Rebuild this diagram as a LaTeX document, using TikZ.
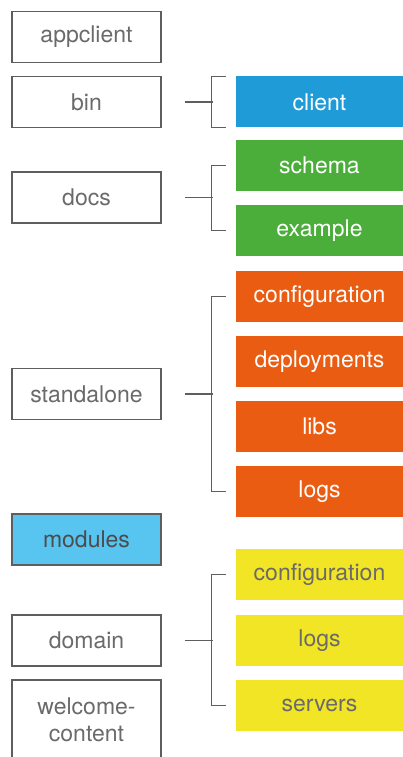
\documentclass[tikz,border=0pt]{standalone}
\usepackage{fontspec}
\setmainfont{TeX Gyre Heros}
\definecolor{boxgray}{HTML}{5E5E5E}
\definecolor{txtgray}{HTML}{6A6A6A}
\definecolor{clientblue}{HTML}{1F9BD8}
\definecolor{modblue}{HTML}{58C5F0}
\definecolor{docgreen}{HTML}{4BAD3A}
\definecolor{saorange}{HTML}{E95C12}
\definecolor{domyellow}{HTML}{F1E526}

\tikzset{
  dir/.style={draw=boxgray, line width=1.3pt, text=txtgray, minimum width=149pt, minimum height=51pt, inner sep=0pt, align=center,
    font=\fontsize{23}{27}\selectfont},
  sub/.style={fill=#1, text=white, minimum width=167pt, minimum height=51pt, inner sep=0pt,
    font=\fontsize{23}{27}\selectfont},
  brace/.style={draw=boxgray, line width=1.3pt}
}

\begin{document}
\begin{tikzpicture}[x=1pt,y=-1pt]
  \useasboundingbox (0,0) rectangle (403,757);
  % top level
  \node[dir] (appclient) at (86.5,37) {appclient};
  \node[dir] (bin) at (86.5,102) {bin};
  \node[dir] (docs) at (86.5,197.5) {docs};
  \node[dir] (standalone) at (86.5,394) {standalone};
  \node[dir, fill=modblue, text=black!70] (modules) at (86.5,539.5) {modules};
  \node[dir] (domain) at (86.5,640.5) {domain};
  \node[dir, minimum height=80pt] (welcome) at (86.5,720) {welcome-\\content};
  % second level
  \node[sub=clientblue] (client) at (319.5,102) {client};
  \node[sub=docgreen] (schema) at (319.5,165.5) {schema};
  \node[sub=docgreen] (example) at (319.5,230.5) {example};
  \node[sub=saorange] (saconf) at (319.5,296.5) {configuration};
  \node[sub=saorange] (deploy) at (319.5,361.5) {deployments};
  \node[sub=saorange] (libs) at (319.5,426.5) {libs};
  \node[sub=saorange] (salogs) at (319.5,491.5) {logs};
  \node[sub=domyellow, text=txtgray] (domconf) at (319.5,574.5) {configuration};
  \node[sub=domyellow, text=txtgray] (domlogs) at (319.5,640.5) {logs};
  \node[sub=domyellow, text=txtgray] (servers) at (319.5,705.5) {servers};
  % brackets
  \draw[brace] ([xshift=23]bin.east) -- ++(28,0);
  \draw[brace] ([xshift=-10]client.north west) -- ++(-14,0) |- ([xshift=-10]client.south west);
  \draw[brace] ([xshift=23]docs.east) -- ++(28,0);
  \draw[brace] ([xshift=-10]schema.west) -- ++(-14,0) |- ([xshift=-10]example.west);
  \draw[brace] ([xshift=23]standalone.east) -- ++(28,0);
  \draw[brace] ([xshift=-10]saconf.west) -- ++(-14,0) |- ([xshift=-10]salogs.west);
  \draw[brace] ([xshift=23]domain.east) -- ++(28,0);
  \draw[brace] ([xshift=-10]domconf.west) -- ++(-14,0) |- ([xshift=-10]servers.west);
\end{tikzpicture}
\end{document}
